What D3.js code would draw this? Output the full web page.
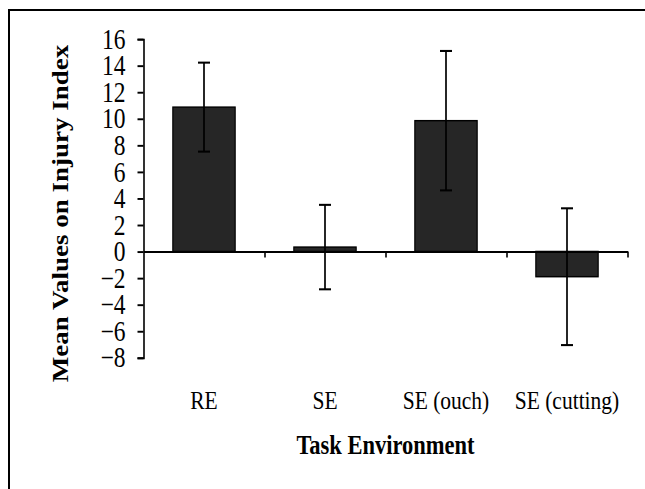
<!DOCTYPE html>
<html>
<head>
<meta charset="utf-8">
<script src="https://cdn.jsdelivr.net/npm/d3@7/dist/d3.min.js"></script>
<style>
  html, body { margin: 0; padding: 0; background: #fff; }
  svg { display: block; }
  text { font-family: "Liberation Serif", "Times New Roman", serif; fill: #000; }
</style>
</head>
<body>
<svg id="chart" width="645" height="489"></svg>
<script>
// ---- data ----
const categories = ["RE", "SE", "SE (ouch)", "SE (cutting)"];
const meanValues = [10.87, 0.33, 9.85, -1.9];
const errorValues = [3.35, 3.18, 5.25, 5.15];
const yTickValues = [-8, -6, -4, -2, 0, 2, 4, 6, 8, 10, 12, 14, 16];
const yTitle = "Mean Values on Injury Index";
const xTitle = "Task Environment";

// ---- layout ----
const K = 1.21; // vertical stretch of the original picture
const svg = d3.select("#chart");

// outer frame
svg.append("rect")
  .attr("x", 9).attr("y", 10)
  .attr("width", 700).attr("height", 600)
  .attr("fill", "none").attr("stroke", "#000").attr("stroke-width", 2);

const g = svg.append("g").attr("transform", `scale(1,${K})`);

const x0 = 143.5, x1 = 627.5;
const y = d3.scaleLinear().domain([-8, 16]).range([357.7 / K, 39 / K]);
const x = d3.scaleBand().domain(categories).range([x0, x1])
  .paddingInner(0.485).paddingOuter(0.2425);
const xEdges = d3.scaleLinear().domain([0, categories.length]).range([x0, x1]);

// y axis
const yAxis = g.append("g").attr("transform", `translate(${x0},0)`)
  .call(d3.axisLeft(y).tickValues(yTickValues).tickFormat(d3.format("d"))
    .tickSize(6).tickSizeOuter(6).tickPadding(12));
yAxis.select(".domain").attr("stroke", "#000").attr("stroke-width", 1.6);
yAxis.selectAll(".tick line").attr("stroke", "#000").attr("stroke-width", 1.6);
yAxis.selectAll(".tick text")
  .style("font-family", '"Liberation Serif", "Times New Roman", serif')
  .style("font-size", "23.5px").attr("fill", "#000");

// bars
g.append("g").selectAll("rect").data(categories).join("rect")
  .attr("x", d => x(d))
  .attr("width", x.bandwidth())
  .attr("y", (d, i) => y(Math.max(0, meanValues[i])))
  .attr("height", (d, i) => Math.abs(y(meanValues[i]) - y(0)))
  .attr("fill", "#262626")
  .attr("stroke", "#000").attr("stroke-width", 1.2);

// x axis (zero line with category boundary ticks)
const xAxis = g.append("g").attr("transform", `translate(0,${y(0)})`)
  .call(d3.axisBottom(xEdges).tickValues(d3.range(1, categories.length + 1))
    .tickFormat("").tickSize(6 / K).tickSizeOuter(0));
xAxis.select(".domain").attr("stroke", "#000").attr("stroke-width", 1.6);
xAxis.selectAll(".tick line").attr("stroke", "#000").attr("stroke-width", 1.6);

// error bars
const capW = 12;
const eb = g.append("g").selectAll("g").data(categories).join("g")
  .attr("stroke", "#000").attr("stroke-width", 1.7);
eb.append("line")
  .attr("x1", d => x(d) + x.bandwidth() / 2).attr("x2", d => x(d) + x.bandwidth() / 2)
  .attr("y1", (d, i) => y(meanValues[i] + errorValues[i]))
  .attr("y2", (d, i) => y(meanValues[i] - errorValues[i]));
eb.append("line")
  .attr("x1", d => x(d) + x.bandwidth() / 2 - capW / 2).attr("x2", d => x(d) + x.bandwidth() / 2 + capW / 2)
  .attr("y1", (d, i) => y(meanValues[i] + errorValues[i]))
  .attr("y2", (d, i) => y(meanValues[i] + errorValues[i]));
eb.append("line")
  .attr("x1", d => x(d) + x.bandwidth() / 2 - capW / 2).attr("x2", d => x(d) + x.bandwidth() / 2 + capW / 2)
  .attr("y1", (d, i) => y(meanValues[i] - errorValues[i]))
  .attr("y2", (d, i) => y(meanValues[i] - errorValues[i]));

// category labels
g.append("g").selectAll("text").data(categories).join("text")
  .attr("x", d => x(d) + x.bandwidth() / 2)
  .attr("y", 409 / K)
  .attr("text-anchor", "middle")
  .style("font-size", "21.5px")
  .text(d => d);

// axis titles
g.append("text")
  .attr("x", (x0 + x1) / 2).attr("y", 454 / K)
  .attr("text-anchor", "middle")
  .style("font-size", "22.5px").style("font-weight", "bold")
  .text(xTitle);

g.append("text")
  .attr("transform", `translate(68,${213.5 / K}) rotate(-90)`)
  .attr("text-anchor", "middle")
  .style("font-size", "22.3px").style("font-weight", "bold")
  .text(yTitle);
</script>
</body>
</html>
